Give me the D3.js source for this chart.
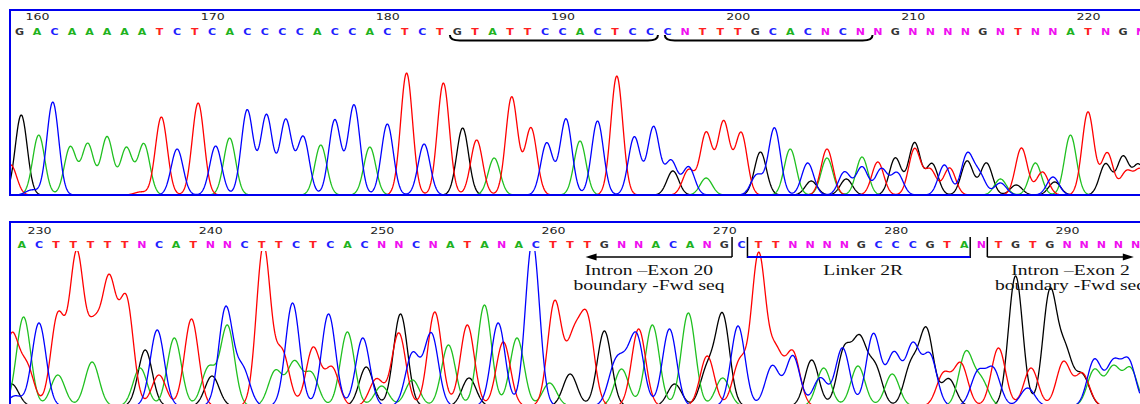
<!DOCTYPE html>
<html>
<head>
<meta charset="utf-8">
<script src="https://cdn.jsdelivr.net/npm/d3@7"></script>
<style>
  body { margin: 0; background: #fff; }
  svg { display: block; }
</style>
</head>
<body>
<div id="chart"></div>
<script>
// base calls (first base number, then called sequence)
var topStart = 159;
var topSeq = "GACAAAAATCTCACCCCACCACTCTGTATTCCACTCCCNTTTGCACNCNNGNNNNGNTNNATNGN";
var botStart = 229;
var botSeq = "ACTTTTTNCATNNCTTCTCACNNCNATANACTTTGNNACANGCTTNNNNGCCCGTANTGTGNNNNN";

var topTicks = [160, 170, 180, 190, 200, 210, 220];
var botTicks = [230, 240, 250, 260, 270, 280, 290];

// peaks per channel: [base position, signal height]
var topA = [[160.1,60],[161.9,48],[162.9,51],[164.0,58],[165.1,47],[166.1,51],[171.0,57],[176.2,50],[179.0,48],[186.1,37],[191.0,54],[198.2,17],[203.0,46],[205.1,37],[207.1,38],[215.0,16],[217.0,32],[219.0,60]];
var topC = [[159.7,5],[160.9,93],[168.0,46],[170.2,49],[172.0,85],[173.1,80],[174.2,75],[175.2,58],[177.0,75],[178.1,90],[180.0,71],[182.1,51],[189.1,52],[190.2,76],[192.0,74],[194.1,58],[195.2,68],[196.2,34],[197.2,28],[201.1,20],[202.1,67],[204.0,32],[206.1,23],[207.1,28],[208.2,26],[209.1,22],[211.8,30],[213.1,40],[213.8,20],[215.0,12],[218.0,18]];
var topG = [[159.1,80],[184.3,67],[196.3,24],[201.3,43],[204.2,14],[206.2,16],[209.0,37],[210.1,52],[211.1,31],[213.1,34],[214.2,32],[215.9,10],[218.1,13],[221.0,31],[222.0,38],[222.9,30]];
var topT = [[158.5,30],[165.9,3],[167.1,78],[169.2,92],[181.1,122],[183.2,112],[185.1,55],[187.1,98],[188.2,67],[193.1,119],[197.2,25],[198.2,62],[199.2,73],[200.2,62],[205.1,46],[208.0,33],[210.1,46],[211.0,25],[212.1,27],[216.2,47],[217.4,23],[220.0,83],[221.1,42],[222.2,23],[223.0,25]];

var botA = [[229.1,89],[231.1,31],[233.1,44],[235.9,38],[237.9,68],[239.9,38],[241.0,80],[243.8,35],[244.9,43],[245.9,32],[248.0,74],[250.0,20],[251.8,26],[253.9,61],[256.0,101],[257.9,68],[259.8,23],[264.0,37],[265.8,81],[267.9,93],[269.9,28],[275.8,38],[277.8,40],[279.8,32],[284.1,53],[285.0,25],[291.6,36],[292.7,38],[293.7,37]];
var botC = [[228.6,10],[230.0,83],[236.9,76],[240.9,98],[241.9,36],[244.8,103],[246.9,92],[248.9,68],[251.8,52],[252.9,72],[256.8,83],[258.8,165],[263.6,36],[264.2,28],[264.9,66],[266.8,77],[270.8,80],[272.8,40],[274.0,50],[275.6,28],[276.9,58],[278.7,72],[279.9,52],[281.0,60],[282.0,50],[284.8,33],[285.7,36],[287.7,18],[291.6,46],[292.7,42],[293.6,44]];
var botG = [[228.4,22],[236.2,56],[240.1,30],[249.1,39],[251.1,92],[255.1,28],[261.0,32],[263.0,75],[267.1,22],[269.0,36],[269.9,90],[275.1,46],[277.0,55],[277.9,63],[278.8,38],[280.9,40],[281.8,75],[283.1,27],[287.0,130],[289.0,113],[289.9,52],[290.9,30]];
var botT = [[228.4,70],[229.3,38],[231.1,90],[232.2,150],[233.2,72],[234.1,120],[235.1,105],[237.0,31],[238.9,87],[243.1,160],[244.2,53],[246.0,58],[247.1,38],[249.7,27],[251.0,73],[253.1,94],[255.0,81],[257.1,64],[260.1,104],[261.2,64],[262.0,84],[265.0,77],[269.0,50],[270.9,44],[272.0,150],[273.0,52],[274.0,53],[282.8,32],[283.8,42],[286.0,58],[287.9,38],[289.8,44],[290.9,32]];

// brackets over the top read, arrows and labels under the bottom read
var topBraces = [[183.57, 195.45], [195.84, 207.7]];
var leftArrow = [270.45, 261.9];
var linker = [271.35, 284.35];
var rightArrow = [285.35, 293.9];
var labels = [
  {at: 265.6, lines: ["Intron \u2013Exon 20", "boundary -Fwd seq"]},
  {at: 278.1, lines: ["Linker 2R"]},
  {at: 290.2, lines: ["Intron \u2013Exon 2", "boundary -Fwd seq"]}
];

var width = 1140, height = 404;
var baseColor = {A: "#1fb31f", C: "#2020ff", G: "#333333", T: "#ff2020", N: "#f010f0"};
var traceColor = {A: "#20c020", C: "#0000ff", G: "#000000", T: "#ff0000"};

var svg = d3.select("#chart").append("svg")
    .attr("width", width)
    .attr("height", height);

var panels = [
  {id: "p1", seq: topSeq, start: topStart, ticks: topTicks,
   peaks: {G: topG, A: topA, T: topT, C: topC},
   x: d3.scaleLinear().domain([160, 220]).range([37, 1088]),
   y: d3.scaleLinear().domain([0, 160]).range([195, 35]),
   top: 10, tickY: 20, baseY: 35, clipTop: 38, bottom: 195, sigma: 0.34},
  {id: "p2", seq: botSeq, start: botStart, ticks: botTicks,
   peaks: {G: botG, A: botA, T: botT, C: botC},
   x: d3.scaleLinear().domain([230, 290]).range([39, 1067]),
   y: d3.scaleLinear().domain([0, 160]).range([406, 246]),
   top: 222, tickY: 234, baseY: 248, clipTop: 251, bottom: 406, sigma: 0.41}
];

// sum of gaussian peaks for one channel
function trace(peaks, sigma, lo, hi) {
  var pts = [];
  for (var b = lo; b <= hi; b += 0.025) {
    var v = 0;
    peaks.forEach(function (p) {
      var d = b - p[0];
      v += p[1] * Math.exp(-d * d / (2 * sigma * sigma));
    });
    pts.push([b, v]);
  }
  return pts;
}

panels.forEach(function (p) {
  var lo = p.x.invert(0), hi = p.x.invert(width);

  svg.append("clipPath").attr("id", "clip-" + p.id)
    .append("rect")
    .attr("x", 11).attr("y", p.clipTop)
    .attr("width", width - 11).attr("height", p.bottom - p.clipTop);

  var line = d3.line()
    .x(function (d) { return p.x(d[0]); })
    .y(function (d) { return p.y(d[1]); });

  var g = svg.append("g").attr("clip-path", "url(#clip-" + p.id + ")");
  Object.keys(p.peaks).forEach(function (ch) {
    g.append("path")
      .datum(trace(p.peaks[ch], p.sigma, lo, hi))
      .attr("d", line)
      .attr("fill", "none")
      .attr("stroke", traceColor[ch])
      .attr("stroke-width", 1.3);
  });

  // tick numbers
  var axis = svg.append("g")
    .attr("transform", "translate(0," + p.tickY + ")")
    .call(d3.axisTop(p.x).tickValues(p.ticks).tickSize(0).tickFormat(d3.format("d")));
  axis.select(".domain").remove();
  axis.selectAll("text")
    .attr("y", 0).attr("dy", 0)
    .attr("transform", "scale(1.4,1)")
    .attr("font-family", "DejaVu Sans")
    .attr("font-size", 9)
    .attr("fill", "#222");

  // called bases
  var letters = p.seq.split("").map(function (c, i) { return {b: c, pos: p.start + i}; });
  svg.append("g").attr("clip-path", "url(#clip-letters)")
    .selectAll("text").data(letters).enter()
    .append("text")
    .attr("transform", function (d) { return "translate(" + p.x(d.pos) + "," + p.baseY + ") scale(1.3,1)"; })
    .attr("text-anchor", "middle")
    .attr("font-family", "DejaVu Sans")
    .attr("font-weight", "bold")
    .attr("font-size", 8.5)
    .attr("fill", function (d) { return baseColor[d.b]; })
    .text(function (d) { return d.b; });

  // panel frame
  var frame = svg.append("g").attr("stroke", "#0000ee").attr("stroke-width", 2);
  frame.append("line").attr("x1", 9).attr("x2", width).attr("y1", p.top).attr("y2", p.top);
  frame.append("line").attr("x1", 10).attr("x2", 10).attr("y1", p.top - 1).attr("y2", p.id === "p1" ? p.bottom + 1 : height);
  if (p.id === "p1") {
    frame.append("line").attr("x1", 9).attr("x2", width).attr("y1", p.bottom).attr("y2", p.bottom);
  }
});

svg.append("clipPath").attr("id", "clip-letters")
  .append("rect").attr("x", 11).attr("y", 0).attr("width", width).attr("height", height);

// brackets under the top sequence
var xt = panels[0].x;
svg.selectAll(".brace").data(topBraces).enter()
  .append("path")
  .attr("class", "brace")
  .attr("d", function (d) {
    var a = xt(d[0]), b = xt(d[1]);
    return "M" + a + ",35 Q" + a + ",40.5 " + (a + 10) + ",40.5 L" + (b - 10) + ",40.5 Q" + b + ",40.5 " + b + ",35";
  })
  .attr("fill", "none")
  .attr("stroke", "#000")
  .attr("stroke-width", 2);

// markers under the bottom sequence
var xb = panels[1].x;
var ann = svg.append("g");
var yTop = 237, yLine = 257;

function arrow(from, to) {
  var a = xb(from), b = xb(to), dir = b > a ? 1 : -1;
  ann.append("line").attr("x1", a).attr("x2", a).attr("y1", yTop).attr("y2", yLine)
    .attr("stroke", "#000").attr("stroke-width", 1.5);
  ann.append("line").attr("x1", a).attr("x2", b - dir * 6).attr("y1", yLine).attr("y2", yLine)
    .attr("stroke", "#000").attr("stroke-width", 1.5);
  ann.append("path")
    .attr("d", "M" + b + "," + yLine + " L" + (b - dir * 11) + "," + (yLine - 3.5) + " L" + (b - dir * 11) + "," + (yLine + 3.5) + " Z")
    .attr("fill", "#000");
}
arrow(leftArrow[0], leftArrow[1]);
arrow(rightArrow[0], rightArrow[1]);

[linker[0], linker[1]].forEach(function (v) {
  ann.append("line").attr("x1", xb(v)).attr("x2", xb(v)).attr("y1", yTop).attr("y2", yLine + 1)
    .attr("stroke", "#000").attr("stroke-width", 1.5);
});
ann.append("line").attr("x1", xb(linker[0])).attr("x2", xb(linker[1])).attr("y1", yLine).attr("y2", yLine)
  .attr("stroke", "#0000ee").attr("stroke-width", 2);

labels.forEach(function (l) {
  l.lines.forEach(function (t, i) {
    ann.append("text")
      .attr("transform", "translate(" + xb(l.at) + "," + (275 + i * 15) + ") scale(1.35,1)")
      .attr("text-anchor", "middle")
      .attr("font-family", "Liberation Serif")
      .attr("font-size", 14.5)
      .attr("fill", "#111")
      .text(t);
  });
});
</script>
</body>
</html>
